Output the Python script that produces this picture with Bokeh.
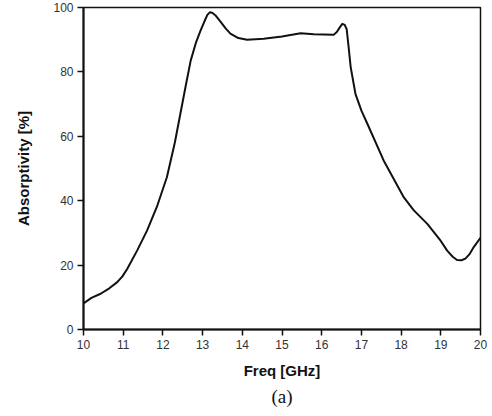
from bokeh.plotting import figure
from bokeh.models import Range1d, FixedTicker, Title
from bokeh.embed import file_html
from bokeh.resources import INLINE

freq = [10.0, 10.2, 10.43, 10.65, 10.85, 10.98, 11.1, 11.35, 11.6, 11.86, 12.1, 12.3, 12.44,
        12.58, 12.7, 12.83, 12.95, 13.05, 13.12, 13.18, 13.24, 13.32, 13.45, 13.58, 13.7,
        13.9, 14.12, 14.54, 15.0, 15.47, 15.8, 16.3, 16.38, 16.46, 16.52, 16.58, 16.63,
        16.68, 16.73, 16.85, 17.0, 17.15, 17.56, 18.07, 18.32, 18.66, 19.0, 19.16,
        19.3, 19.41, 19.52, 19.62, 19.73, 19.83, 20.0]
absorptivity = [8.1, 9.8, 11.1, 12.8, 14.7, 16.5, 18.8, 24.5, 30.7, 38.5, 47.3, 58.0, 67.0,
                76.0, 83.5, 89.0, 92.9, 95.8, 97.7, 98.5, 98.4, 97.6, 95.6, 93.5, 91.9,
                90.5, 90.0, 90.3, 91.0, 92.0, 91.7, 91.5, 92.4, 93.9, 94.9, 94.6, 93.2,
                87.5, 81.5, 73.2, 68.0, 63.9, 52.5, 41.0, 37.0, 32.8, 27.5, 24.5,
                22.6, 21.6, 21.5, 22.0, 23.5, 25.6, 28.5]
x_ticks = [10, 11, 12, 13, 14, 15, 16, 17, 18, 19, 20]
y_ticks = [0, 20, 40, 60, 80, 100]

p = figure(width=492, height=416, output_backend="svg", toolbar_location=None,
           x_range=Range1d(10, 20), y_range=Range1d(0, 100),
           min_border_left=83, min_border_right=12, min_border_top=7, min_border_bottom=87)
p.frame_width = 397
p.frame_height = 322

p.line(freq, absorptivity, line_color="#111111", line_width=2, line_join="round")

p.grid.visible = False
p.outline_line_color = "#111111"
p.outline_line_width = 1.5
p.background_fill_color = "white"
p.border_fill_color = "white"

for ax in (p.xaxis[0], p.yaxis[0]):
    ax.axis_line_color = "#111111"
    ax.axis_line_width = 2
    ax.major_tick_line_color = "#111111"
    ax.major_tick_line_width = 1.5
    ax.major_tick_out = 6
    ax.major_tick_in = 0
    ax.minor_tick_line_color = None
    ax.major_label_text_font = "Liberation Sans"
    ax.major_label_text_font_size = "12px"
    ax.major_label_text_color = "#333333"
    ax.axis_label_text_font = "Liberation Sans"
    ax.axis_label_text_font_style = "bold"
    ax.axis_label_text_font_size = "15px"
    ax.axis_label_text_color = "#111111"

p.xaxis.ticker = FixedTicker(ticks=x_ticks)
p.yaxis.ticker = FixedTicker(ticks=y_ticks)
p.xaxis.axis_label = "Freq [GHz]"
p.yaxis.axis_label = "Absorptivity [%]"
p.xaxis.major_label_standoff = 4
p.yaxis.major_label_standoff = 4
p.xaxis.axis_label_standoff = 10
p.yaxis.axis_label_standoff = 18

cap = Title(text="(a)", align="center", text_font="Liberation Serif",
            text_font_size="19px", text_font_style="normal", text_color="#111111",
            standoff=4)
p.add_layout(cap, "below")

open("out.html", "w").write(file_html(p, INLINE))
